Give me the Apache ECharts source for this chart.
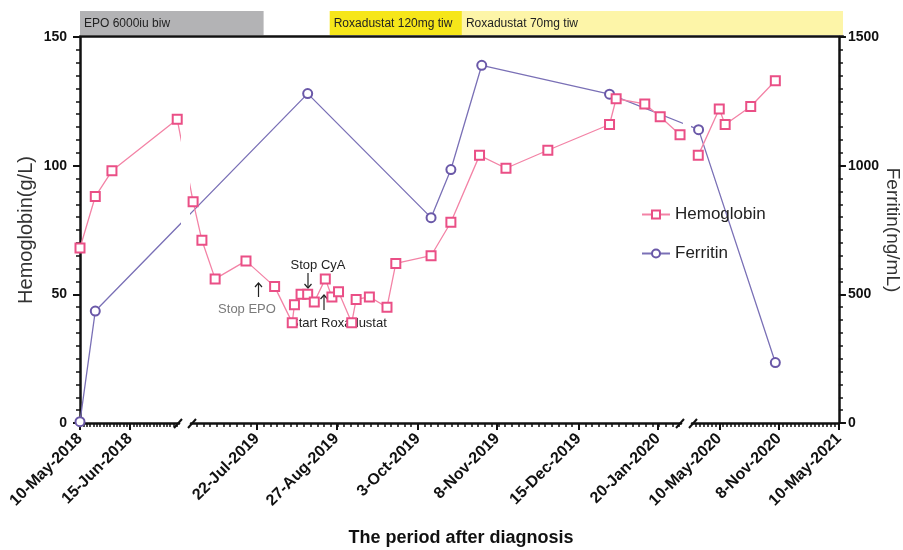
<!DOCTYPE html>
<html><head><meta charset="utf-8">
<script src="https://cdn.jsdelivr.net/npm/echarts@6/dist/echarts.min.js"></script>
<style>html,body{margin:0;padding:0;background:#fff}#c{width:903px;height:550px}</style>
</head><body><div id="c"></div>
<script>
// ---------------- data ----------------
const hbDates = ['2018-05-10','2018-05-21','2018-06-02','2018-07-19',
  '2019-06-23','2019-06-27','2019-07-03','2019-07-17','2019-07-30','2019-08-07','2019-08-08','2019-08-11','2019-08-14',
  '2019-08-17','2019-08-22','2019-08-25','2019-08-28','2019-09-03','2019-09-05','2019-09-11','2019-09-19','2019-09-23',
  '2019-10-09','2019-10-18','2019-10-31','2019-11-12','2019-12-01','2019-12-29','2020-01-01','2020-01-14','2020-01-21','2020-01-30',
  '2020-03-07','2020-05-10','2020-05-28','2020-08-14','2020-10-28'];
const hbValues = [68,88,98,118,
  86,71,56,63,53,39,46,50,50,
  47,56,49,51,39,48,49,45,62,
  65,78,104,99,106,116,126,124,119,112,
  104,122,116,123,133];
const hbGapBefore = ['2020-03-07'];   // the hemoglobin line is not joined across this gap
const ferDates = ['2018-05-10','2018-05-21','2019-08-14','2019-10-09','2019-10-18','2019-11-01','2019-12-29','2020-03-08','2020-10-28'];
const ferValues = [5,435,1280,798,985,1390,1278,1140,235];
const tickDates = ['2018-05-10','2018-06-15','2019-07-22','2019-08-27','2019-10-03','2019-11-08','2019-12-15','2020-01-20','2020-05-10','2020-11-08','2021-05-10'];
const tickLabels = ['10-May-2018','15-Jun-2018','22-Jul-2019','27-Aug-2019','3-Oct-2019','8-Nov-2019','15-Dec-2019','20-Jan-2020','10-May-2020','8-Nov-2020','10-May-2021'];
const treatNames = ['EPO 6000iu biw','Roxadustat 120mg tiw','Roxadustat 70mg tiw'];
const treatStart = ['2018-05-10','2019-08-24','2019-10-23'];
const treatEnd = ['2019-07-25','2019-10-23','2021-05-10'];

// ---------------- broken date scale ----------------
const FONT = '"Liberation Sans", Arial, Helvetica, sans-serif';
const DAY = 86400000;
const dayNum = s => { const p = s.split('-').map(Number); return Date.UTC(p[0], p[1]-1, p[2]) / DAY; };
const segments = [
  {left:80,  right:179, anchor:'2018-05-10', anchorX:80,  pxPerDay:50/36,   minorDays:36/15},
  {left:191, right:681, anchor:'2019-07-22', anchorX:257, pxPerDay:401/182, minorDays:36.5/12},
  {left:692, right:843, anchor:'2020-05-10', anchorX:720, pxPerDay:123/365, minorDays:182.5/15}
];
const rawX = (g, s) => g.anchorX + (dayNum(s) - dayNum(g.anchor)) * g.pxPerDay;
function segOf(s) {
  let best = 0, bd = Infinity;
  segments.forEach((g, i) => {
    const x = rawX(g, s);
    const d = x < g.left ? g.left - x : (x > g.right ? x - g.right : 0);
    if (d < bd) { bd = d; best = i; }
  });
  return best;
}
const toX = s => rawX(segments[segOf(s)], s);

const hbData = [];
hbDates.forEach((d, k) => {
  if (hbGapBefore.includes(d)) hbData.push([toX(d), '-']);
  hbData.push([toX(d), hbValues[k]]);
});
const ferData = ferDates.map((d, k) => [toX(d), ferValues[k]]);

const GT = 37, GH = 386;
const grids = [], xAxes = [], yAxes = [], series = [];
const tickX = tickDates.map(toX);

segments.forEach((g, i) => {
  grids.push({left: g.left, width: g.right - g.left, top: GT, height: GH});
  const majors = tickX.filter(v => v >= g.left - 0.01 && v <= g.right + 0.01);
  const step = g.minorDays * g.pxPerDay;
  const minors = [];
  for (let v = g.anchorX; v >= g.left - 0.01; v -= step) minors.push(v);
  for (let v = g.anchorX + step; v <= g.right + 0.01; v += step) minors.push(v);
  xAxes.push({
    gridIndex: i, type: 'value', position: 'bottom', min: g.left, max: g.right,
    axisLine: {show: true, lineStyle: {color: '#111', width: 2.5}},
    axisTick: {show: true, customValues: majors, length: 7, lineStyle: {color: '#111', width: 2}},
    axisLabel: {show: true, customValues: majors, rotate: 45, margin: 13,
      fontFamily: FONT, fontWeight: 'bold', fontSize: 16, color: '#111',
      formatter: v => { const k = tickX.findIndex(t => Math.abs(t - v) < 0.05); return k >= 0 ? tickLabels[k] : ''; }},
    splitLine: {show: false}
  });
  xAxes.push({
    gridIndex: i, type: 'value', position: 'bottom', min: g.left, max: g.right,
    axisLine: {show: false},
    axisTick: {show: true, customValues: minors, length: 4, lineStyle: {color: '#111', width: 1.5}},
    axisLabel: {show: false}, splitLine: {show: false}
  });
  const hbAxis = {
    gridIndex: i, type: 'value', position: 'left', min: 0, max: 150, interval: 50, show: i === 0,
    axisLine: {show: true, lineStyle: {color: '#111', width: 2.5}},
    axisTick: {show: true, length: 7, lineStyle: {color: '#111', width: 2}},
    minorTick: {show: true, splitNumber: 10, length: 4, lineStyle: {color: '#111', width: 1.5}},
    axisLabel: {fontFamily: FONT, fontWeight: 'bold', fontSize: 14, color: '#111', margin: 13},
    splitLine: {show: false}, minorSplitLine: {show: false}
  };
  if (i === 0) Object.assign(hbAxis, {name: 'Hemoglobin(g/L)', nameLocation: 'middle', nameGap: 44,
    nameTextStyle: {fontFamily: FONT, fontSize: 20, color: '#333'}});
  yAxes.push(hbAxis);
  const ferAxis = {
    gridIndex: i, type: 'value', position: 'right', min: 0, max: 1500, interval: 500, show: i === 2,
    axisLine: {show: true, lineStyle: {color: '#111', width: 2.5}},
    axisTick: {show: true, length: 7, lineStyle: {color: '#111', width: 2}},
    minorTick: {show: true, splitNumber: 10, length: 4, lineStyle: {color: '#111', width: 1.5}},
    axisLabel: {fontFamily: FONT, fontWeight: 'bold', fontSize: 14, color: '#111', margin: 9, formatter: v => String(v)},
    splitLine: {show: false}, minorSplitLine: {show: false}
  };
  if (i === 2) Object.assign(ferAxis, {name: 'Ferritin(ng/mL)', nameLocation: 'middle', nameGap: 39, nameRotate: -90,
    nameTextStyle: {fontFamily: FONT, fontSize: 19, color: '#333'}});
  yAxes.push(ferAxis);

  series.push({
    name: 'Hemoglobin', type: 'line', xAxisIndex: 2*i, yAxisIndex: 2*i, clip: true, connectNulls: false,
    data: hbData,
    symbol: 'rect', symbolSize: 9, showAllSymbol: true,
    lineStyle: {color: '#f383a6', width: 1.3},
    itemStyle: {color: '#fff', borderColor: '#ea4f86', borderWidth: 2},
    emphasis: {disabled: true}, animation: false, z: 3
  });
  series.push({
    name: 'Ferritin', type: 'line', xAxisIndex: 2*i, yAxisIndex: 2*i + 1, clip: true,
    data: ferData,
    symbol: 'circle', symbolSize: 9, showAllSymbol: true,
    lineStyle: {color: '#7a70b6', width: 1.3},
    itemStyle: {color: '#fff', borderColor: '#6a58a8', borderWidth: 2},
    emphasis: {disabled: true}, animation: false, z: 2
  });
});

// top treatment strip
const stripIdx = grids.length;
grids.push({left: 80, width: 763, top: 11, height: 25});
xAxes.push({gridIndex: stripIdx, type: 'value', position: 'bottom', min: 80, max: 843,
  axisLine: {show: true, lineStyle: {color: '#111', width: 2.5}}, axisTick: {show: false}, axisLabel: {show: false}, splitLine: {show: false}});
yAxes.push({gridIndex: stripIdx, type: 'value', min: 0, max: 1, show: false});
const treatColors = ['#b3b3b5', '#f6e61a', '#fdf5a8'];
series.push({
  type: 'custom', xAxisIndex: xAxes.length - 1, yAxisIndex: yAxes.length - 1, silent: true, animation: false,
  data: treatNames.map((n, k) => [toX(treatStart[k]), toX(treatEnd[k]), k]),
  renderItem: (params, api) => {
    const k = api.value(2);
    const x0 = api.coord([api.value(0), 0])[0], x1 = api.coord([api.value(1), 0])[0];
    const cs = params.coordSys;
    return {type: 'group', children: [
      {type: 'rect', shape: {x: x0, y: cs.y, width: x1 - x0, height: cs.height - 1}, style: {fill: treatColors[k]}},
      {type: 'text', style: {text: treatNames[k], x: x0 + 4, y: cs.y + cs.height / 2, verticalAlign: 'middle', align: 'left',
        fill: '#222', font: '12px ' + FONT}}
    ]};
  }
});

// decorations: axis break marks, annotations, x title
const graphics = [];
const slash = cx => ({type: 'line', shape: {x1: cx - 4, y1: GT + GH + 5, x2: cx + 4, y2: GT + GH - 4}, style: {stroke: '#111', lineWidth: 2}});
segments.forEach((g, i) => { if (i > 0) graphics.push(slash(g.left + 1)); if (i < segments.length - 1) graphics.push(slash(g.right - 1)); });
const arrow = (x, yTip, yTail) => {
  const d = yTip < yTail ? 4 : -4;
  return [
    {type: 'line', shape: {x1: x, y1: yTail, x2: x, y2: yTip}, style: {stroke: '#222', lineWidth: 1.2}},
    {type: 'polyline', shape: {points: [[x - 3.5, yTip + d], [x, yTip], [x + 3.5, yTip + d]]}, style: {stroke: '#222', lineWidth: 1.2, fill: null}}
  ];
};
graphics.push(...arrow(258.5, 283, 297), ...arrow(308, 288, 273), ...arrow(324, 295, 310));
const txt = (t, x, y, col, size, weight, align) => ({type: 'text', style: {text: t, x: x, y: y, fill: col,
  font: (weight || 'normal') + ' ' + size + 'px ' + FONT, align: align || 'center', verticalAlign: 'middle', textAlign: align || 'center', textVerticalAlign: 'middle'}});
graphics.push(txt('Stop EPO', 247, 309, '#7a7a7a', 13));
graphics.push(txt('Stop CyA', 318, 265, '#222', 13));
graphics.push(txt('Start Roxadustat', 290, 323, '#222', 13, 'normal', 'left'));
graphics.push(txt('The period after diagnosis', 461, 538, '#111', 18, 'bold'));

const chart = echarts.init(document.getElementById('c'), null, {renderer: 'canvas'});
chart.setOption({
  animation: false,
  backgroundColor: '#fff',
  textStyle: {fontFamily: FONT},
  grid: grids, xAxis: xAxes, yAxis: yAxes, series: series,
  legend: {data: ['Hemoglobin', 'Ferritin'], orient: 'vertical', left: 636, top: 201,
    itemWidth: 28, itemHeight: 10, itemGap: 22, selectedMode: false,
    textStyle: {fontFamily: FONT, fontSize: 17, color: '#222'}},
  graphic: graphics
});
</script></body></html>
